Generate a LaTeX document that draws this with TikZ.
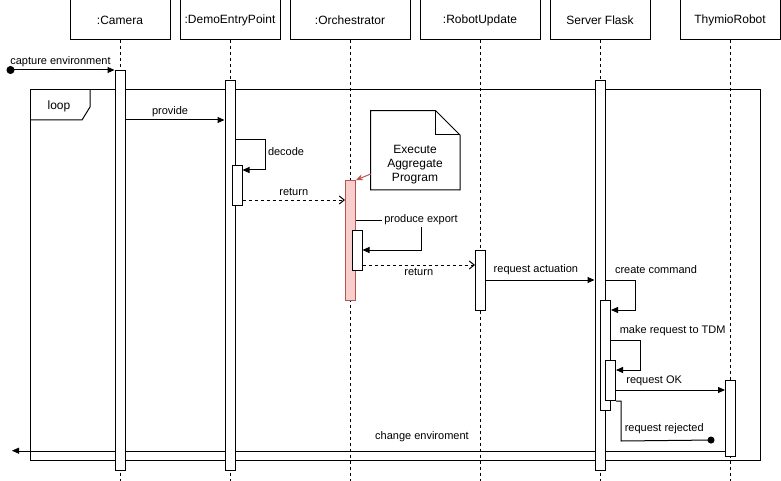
\documentclass[tikz,border=0pt]{standalone}
\usepackage{fontspec}
\setmainfont{Liberation Sans}
\usetikzlibrary{arrows.meta,backgrounds}
\definecolor{notered}{HTML}{B85450}
\definecolor{notepink}{HTML}{F8CECC}

\begin{document}
\begin{tikzpicture}[x=1pt,y=-1pt,line width=1pt,
                obj/.style={draw,minimum width=100pt,minimum height=40pt,inner sep=0pt,font=\fontsize{12}{14}\selectfont},
                act/.style={draw,fill=white,minimum width=10pt,inner sep=0pt,anchor=north},
                life/.style={dash pattern=on 3pt off 3pt},
                msg/.style={-{Triangle[length=7pt,width=6pt]}},
                ret/.style={dash pattern=on 3pt off 3pt,-{Straight Barb[length=5pt,width=8pt]}},
                lbl/.style={font=\fontsize{11}{13}\selectfont,inner sep=2pt,text height=8pt,text depth=2.5pt}]
                \useasboundingbox (0,0) rectangle (781,481);
                \node[obj] (cam) at (120,20) {:Camera};
                \node[obj] (dep) at (230,20) {:DemoEntryPoint};
                \node[obj,minimum width=120pt] (orch) at (350,20) {:Orchestrator};
                \node[obj,minimum width=120pt] (ru) at (480,20) {:RobotUpdate};
                \node[obj] (sf) at (600,20) {Server Flask};
                \node[obj] (thy) at (730,20) {ThymioRobot};
                \foreach \o in {cam,dep,orch,ru,sf,thy}
                    \draw[life] (\o.south) -- (\o.south |- 0,481);
                % loop frame
                \draw (30,90) rectangle (760,460);
                \draw (30,120) -- (82,120) -- (90,107) -- (90,90);
                \node[font=\fontsize{12}{14}\selectfont] (looplbl) at (59,106.5) {loop};
                % activations
                \node[act,minimum height=400pt] (camA) at (120,70) {};
                \node[act,minimum height=390pt] (depA) at (230,80) {};
                \node[act,minimum height=40pt] (depB) at (237,165) {};
                \node[act,minimum height=120pt,fill=notepink,draw=notered] (orchA) at (350.5,180) {};
                \node[act,minimum height=40pt] (orchB) at (357,230) {};
                \node[act,minimum height=60pt] (ruA) at (480.5,250) {};
                \node[act,minimum height=390pt] (sfA) at (600,80) {};
                \node[act,minimum height=110pt] (sfB) at (605.5,300) {};
                \node[act,minimum height=40pt] (sfC) at (610.5,360) {};
                \node[act,minimum height=76pt] (thyA) at (730.5,380) {};
                % note
                \draw (370.7,110.7) -- (435.7,110.7) -- (460,135) -- (460,190) -- (370.7,190) -- cycle;
                \draw (435.7,110.7) -- (435.7,135) -- (460,135);
                \node[align=center,font=\fontsize{12}{14}\selectfont] (note) at (415,164.5) {Execute\\Aggregate\\Program};
                \coordinate (noteL) at (370.7,174);
                \draw[notered,-{Stealth[length=7pt,width=6pt]}] (noteL) -- (orchA.north east);
                % messages
                \coordinate (start) at (6.5,70);
                \draw[{Circle[length=8pt]}-{Triangle[length=7pt,width=6pt]}] (start) -- node[lbl,above] {capture environment} (start -| camA.west);
                \draw[msg] (camA.east |- 0,120) -- node[lbl,above,pos=0.45] {provide} (depA.west |- 0,120);
                \draw[msg] (depA.east |- 0,140) -- ++(30,0) node[lbl,anchor=base west,yshift=-16pt] {decode} |- (depB.east |- 0,170);
                \draw[ret] (depB.east |- 0,200) -- node[lbl,above] {return} (orchA.west |- 0,200);
                \draw[msg] (orchA.east |- 0,220) -- ++(65,0) node[lbl,fill=white] {produce export} |- (orchB.east |- 0,250);
                \draw[ret] (orchB.east |- 0,265) -- node[lbl,below,text depth=0pt] {return} (ruA.west |- 0,265);
                \draw[msg] (ruA.east |- 0,280) -- node[lbl,above,pos=0.46,yshift=3pt] {request actuation} (sfA.west |- 0,280);
                \draw[msg] (sfA.east |- 0,280) node[lbl,anchor=base west,xshift=7pt,yshift=6.5pt] {create command} -- ++(30,0) |- (sfB.east |- 0,310);
                \draw[msg] (sfB.east |- 0,340.7) node[lbl,anchor=base west,xshift=6.3pt,yshift=7.4pt] {make request to TDM} -- ++(29.3,0) |- (sfC.east |- 0,370);
                \draw[msg] (sfC.east |- 0,390) -- node[lbl,above,pos=0.35,yshift=2pt] {request OK} (thyA.west |- 0,390);
                \coordinate (rejEnd) at (714.5,440);
                \draw[-{Circle[length=7pt]}] (sfC.south east) -- ++(5,0) -- ++(0,40) node[lbl,anchor=base west,xshift=1.3pt,yshift=10pt] {request rejected} -- (rejEnd);
                \coordinate (envEnd) at (12,450.7);
                \begin{pgfonlayer}{background}
                \draw[msg] (thyA.west |- 0,450.7) -- node[lbl,above,pos=0.425,yshift=7pt] {change enviroment} (envEnd);
                \end{pgfonlayer}
            \end{tikzpicture}
\end{document}
